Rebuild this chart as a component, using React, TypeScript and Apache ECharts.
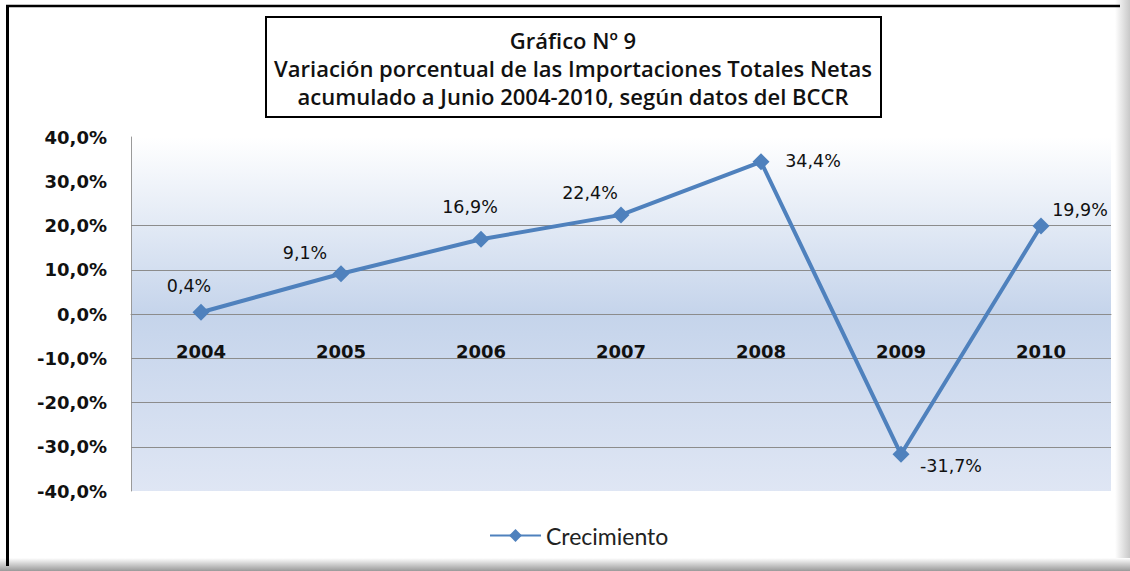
import React, { useEffect, useRef } from "react";
import * as echarts from "echarts";

const categories = ["2004", "2005", "2006", "2007", "2008", "2009", "2010"];
const growth = [0.4, 9.1, 16.9, 22.4, 34.4, -31.7, 19.9];
const seriesName = "Crecimiento";
const gridValues = [20, 10, 0, -10, -20, -30];
const titleLines = [
  "Gráfico Nº 9",
  "Variación porcentual de las Importaciones Totales Netas",
  "acumulado a Junio 2004-2010, según datos del BCCR",
];

const labelOffsets: [number, number][] = [
  [-12, -26],
  [-36, -21],
  [-11, -32],
  [-31, -22],
  [52, -1],
  [50, 12],
  [39, -16],
];

const fmt = (v: number) => v.toFixed(1).replace(".", ",") + "%";

export default function App() {
  const ref = useRef<HTMLDivElement>(null);
  useEffect(() => {
    document.body.style.margin = "0";
    const chart = echarts.init(ref.current!, null, { renderer: "svg" });
    const lineColor = "#4f81bd";
    chart.setOption({
      animation: false,
      backgroundColor: "#ffffff",
      grid: {
        left: 131,
        right: 19,
        top: 137,
        bottom: 80,
        show: true,
        borderWidth: 0,
        backgroundColor: {
          type: "linear",
          x: 0,
          y: 0,
          x2: 0,
          y2: 1,
          colorStops: [
            { offset: 0, color: "#ffffff" },
            { offset: 0.5, color: "#c5d4eb" },
            { offset: 1, color: "#dfe6f4" },
          ],
        },
      },
      legend: {
        data: [seriesName],
        left: 484,
        top: 519,
        itemWidth: 51,
        itemHeight: 16,
        itemGap: 10,
        textStyle: { fontFamily: "Lato", fontSize: 23, color: "#222" },
      },
      xAxis: {
        type: "category",
        data: categories,
        boundaryGap: true,
        offset: -177,
        axisLine: { show: true, onZero: false, lineStyle: { color: "#8c8c8c", width: 1 } },
        axisTick: { show: false },
        axisLabel: {
          margin: 28,
          fontFamily: "DejaVu Sans",
          fontWeight: "bold",
          fontSize: 18,
          color: "#111",
        },
        splitLine: { show: false },
      },
      yAxis: {
        type: "value",
        min: -40,
        max: 40,
        interval: 10,
        axisLine: { show: true, lineStyle: { color: "#9a9a9a", width: 1 } },
        axisTick: { show: false },
        splitLine: { show: false },
        axisLabel: {
          margin: 24,
          formatter: (v: number) => fmt(v),
          fontFamily: "DejaVu Sans",
          fontWeight: "bold",
          fontSize: 18,
          color: "#111",
        },
      },
      series: [
        {
          name: seriesName,
          type: "line",
          data: growth.map((v, i) => ({
            value: v,
            label: { offset: labelOffsets[i] },
          })),
          symbol: "diamond",
          symbolSize: 17,
          lineStyle: { color: lineColor, width: 4 },
          itemStyle: { color: lineColor },
          label: {
            show: true,
            position: "inside",
            formatter: (p: any) => fmt(p.value),
            fontFamily: "DejaVu Sans",
            fontSize: 17.5,
            color: "#111",
          },
          markLine: {
            silent: true,
            symbol: "none",
            label: { show: false },
            lineStyle: { color: "#8c8c8c", width: 1, type: "solid" },
            data: gridValues.map((v) => ({ yAxis: v })),
            z: 1,
          },
          z: 3,
        },
      ],
      graphic: [
        {
          type: "rect",
          shape: { x: 1115, y: 0, width: 15, height: 571 },
          style: {
            fill: {
              type: "linear",
              x: 0,
              y: 0,
              x2: 1,
              y2: 0,
              colorStops: [
                { offset: 0, color: "#ffffff" },
                { offset: 1, color: "#c8c8c8" },
              ],
            },
          },
          z: 0,
        },
        {
          type: "rect",
          shape: { x: 0, y: 558, width: 1130, height: 13 },
          style: {
            fill: {
              type: "linear",
              x: 0,
              y: 0,
              x2: 0,
              y2: 1,
              colorStops: [
                { offset: 0, color: "#ffffff" },
                { offset: 1, color: "#9a9a9a" },
              ],
            },
          },
          z: 0,
        },
        {
          type: "line",
          shape: { x1: 6, y1: 6, x2: 1120, y2: 6 },
          style: { stroke: "#000", lineWidth: 2.5 },
        },
        {
          type: "line",
          shape: { x1: 7.5, y1: 5, x2: 7.5, y2: 566 },
          style: { stroke: "#000", lineWidth: 3 },
        },
        {
          type: "rect",
          shape: { x: 266, y: 17, width: 615, height: 100 },
          style: { fill: "#fff", stroke: "#000", lineWidth: 2 },
        },
        ...titleLines.map((t, i) => ({
          type: "text",
          x: 573,
          y: 40 + i * 28,
          style: {
            text: t,
            fill: "#111",
            font: "600 22px 'Open Sans'",
            textAlign: "center",
            textVerticalAlign: "middle",
          },
        })),
      ],
    });
    return () => chart.dispose();
  }, []);
  return (
    <div
      ref={ref}
      style={{ position: "absolute", left: 0, top: 0, width: 1130, height: 571 }}
    />
  );
}
